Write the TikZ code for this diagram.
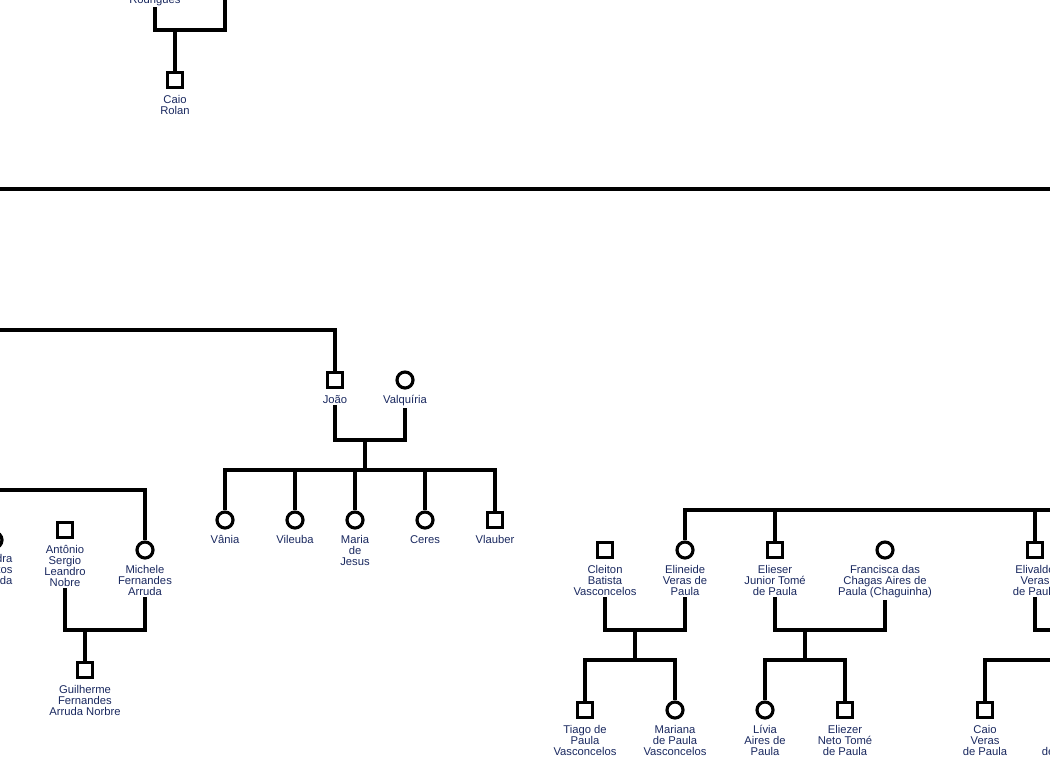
\documentclass[tikz,border=0pt]{standalone}
\usepackage{fontspec}
\setmainfont{Liberation Sans}
\usetikzlibrary{positioning}
\definecolor{azulnome}{RGB}{25,40,95}
\tikzset{
  homem/.style={draw, rectangle, minimum size=0.30cm, inner sep=0pt},
  mulher/.style={draw, circle, minimum size=0.32cm, inner sep=0pt},
  nome/.style={text=azulnome, font=\fontsize{6.4}{6.25}\selectfont, align=center, inner sep=0pt},
}
\begin{document}
\begin{tikzpicture}[x=0.02cm, y=-0.02cm, line width=1.8pt, node distance=2.5pt]
\useasboundingbox (0,0) rectangle (1050,779);
\clip (0,0) rectangle (1050,779);

%topo
\node[nome] (rodT) at (155,0.5) {Rodrigues};
\coordinate (esp0) at (225,-20);
\coordinate (m0) at (175,30);
\draw (rodT.south) |- (m0) -| (esp0);
\node[homem] (caio1) at (175,80) {};
\node[nome, below=of caio1] (caio1T) {Caio\\Rolan};
\draw (m0) -- (caio1);

%separador
\draw (-10,189) -- (1060,189);

%joao e valquiria
\coordinate (e1) at (-10,330);
\node[homem] (joao) at (335,380) {};
\node[nome, below=of joao] (joaoT) {João};
\node[mulher] (valq) at (405,380) {};
\node[nome, below=of valq] (valqT) {Valquíria};
\draw (e1) -| (joao);
\coordinate (m1) at (365,440);
\coordinate (s1) at (365,470);
\draw (joaoT.south) |- (m1) -| (valqT.south);
\draw (m1) -- (s1);
\node[mulher] (vania) at (225,520) {};
\node[nome, below=of vania] {Vânia};
\node[mulher] (vileuba) at (295,520) {};
\node[nome, below=of vileuba] {Vileuba};
\node[mulher] (maria) at (355,520) {};
\node[nome, below=of maria] {Maria\\de\\Jesus};
\node[mulher] (ceres) at (425,520) {};
\node[nome, below=of ceres] {Ceres};
\node[homem] (vlauber) at (495,520) {};
\node[nome, below=of vlauber] {Vlauber};
\draw (vania) |- (s1) -| (vlauber);
\foreach \f in {vileuba, maria, ceres}
  \draw (\f) -- (\f |- s1);

%esquerda
\coordinate (e2) at (-10,490);
\node[mulher] (esq) at (-6,540) {};
\node[nome, anchor=north east, align=right] (esqT) at (14,553) {dra\\tos\\da};
\node[homem] (antonio) at (65,530) {};
\node[nome, below=of antonio] (antT) {Antônio\\Sergio\\Leandro\\Nobre};
\node[mulher] (michele) at (145,550) {};
\node[nome, below=of michele] (micT) {Michele\\Fernandes\\Arruda};
\draw (e2) -| (michele);
\coordinate (m2) at (85,630);
\draw (antT.south) |- (m2) -| (micT.south);
\node[homem] (guilherme) at (85,670) {};
\node[nome, below=of guilherme] {Guilherme\\Fernandes\\Arruda Norbre};
\draw (m2) -- (guilherme);

%direita
\coordinate (e3) at (1060,510);
\node[homem] (cleiton) at (605,550) {};
\node[nome, below=of cleiton] (cleT) {Cleiton\\Batista\\Vasconcelos};
\node[mulher] (elineide) at (685,550) {};
\node[nome, below=of elineide] (eliT) {Elineide\\Veras de\\Paula};
\node[homem] (elieser) at (775,550) {};
\node[nome, below=of elieser] (elsT) {Elieser\\Junior Tomé\\de Paula};
\node[mulher] (francisca) at (885,550) {};
\node[nome, below=of francisca] (fraT) {Francisca das\\Chagas Aires de\\Paula (Chaguinha)};
\node[homem] (elivaldo) at (1035,550) {};
\node[nome, below=of elivaldo] (elvT) {Elivaldo\\Veras\\de Paula};
\draw (elineide) |- (e3);
\draw (elieser) -- (elieser |- e3);
\draw (elivaldo) -- (elivaldo |- e3);

\coordinate (m3) at (635,630);
\coordinate (s3) at (635,660);
\draw (cleT.south) |- (m3) -| (eliT.south);
\draw (m3) -- (s3);
\node[homem] (tiago) at (585,710) {};
\node[nome, below=of tiago] {Tiago de\\Paula\\Vasconcelos};
\node[mulher] (mariana) at (675,710) {};
\node[nome, below=of mariana] {Mariana\\de Paula\\Vasconcelos};
\draw (tiago) |- (s3) -| (mariana);

\coordinate (m4) at (805,630);
\coordinate (s4) at (805,660);
\draw (elsT.south) |- (m4) -| (fraT.south);
\draw (m4) -- (s4);
\node[mulher] (livia) at (765,710) {};
\node[nome, below=2.2pt of livia] {Lívia\\Aires de\\Paula};
\node[homem] (eliezer) at (845,710) {};
\node[nome, below=of eliezer] {Eliezer\\Neto Tomé\\de Paula};
\draw (livia) |- (s4) -| (eliezer);

\coordinate (e4) at (1060,630);
\coordinate (e5) at (1060,660);
\draw (elvT.south) |- (e4);
\node[homem] (caio2) at (985,710) {};
\node[nome, below=of caio2] {Caio\\Veras\\de Paula};
\draw (caio2) |- (e5);
\node[nome] (foraT) at (1064,751) {de Paula};
\end{tikzpicture}
\end{document}
